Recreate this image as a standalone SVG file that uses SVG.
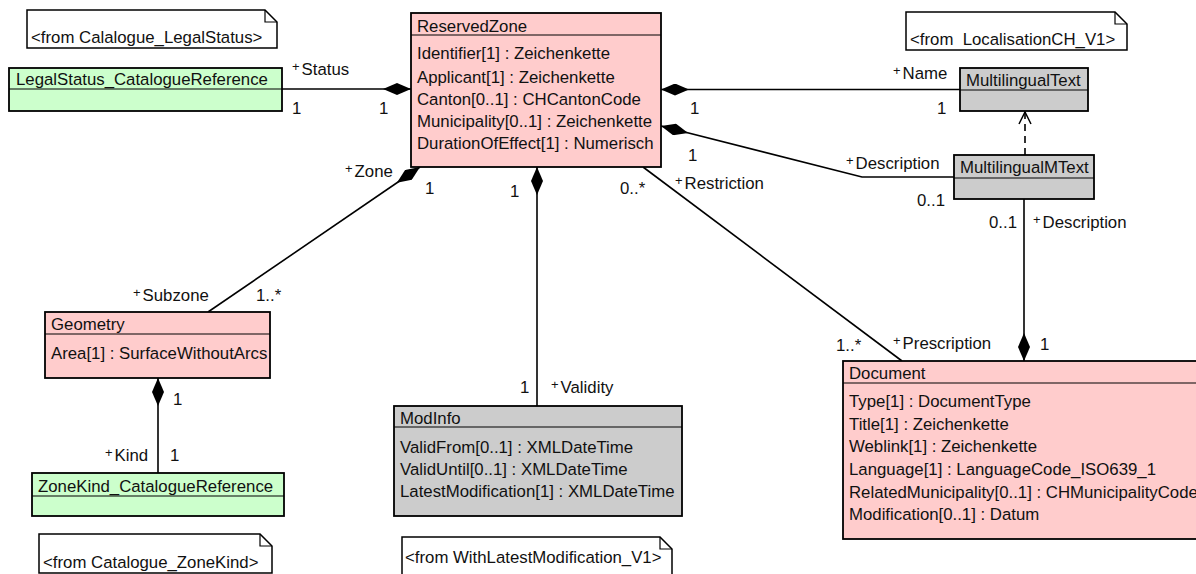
<svg xmlns="http://www.w3.org/2000/svg" width="1196" height="574" viewBox="0 0 1196 574">
<style>
text{font-family:"Liberation Sans",Arial,sans-serif;font-size:16.8px;fill:#111}
.p{font-size:13px}
.box{stroke:#000;stroke-width:1.8}
.pink{fill:#ffcccc}
.green{fill:#ccffcc}
.gray{fill:#cccccc}
.div{stroke:#000;stroke-width:1.2}
.note{fill:#fff;stroke:#000;stroke-width:1.5}
.fold{fill:none;stroke:#000;stroke-width:1.2}
.c{fill:none;stroke:#000;stroke-width:1.6}
.dash{stroke-dasharray:7 5}
</style>
<defs>
<marker id="dia" viewBox="0 0 28 12" refX="0" refY="6" markerWidth="28" markerHeight="12" markerUnits="userSpaceOnUse" orient="auto">
<path d="M0,6 L14,0 L28,6 L14,12 Z" fill="#000"/>
</marker>
<marker id="open" viewBox="0 0 14 14" refX="13" refY="7" markerWidth="14" markerHeight="14" markerUnits="userSpaceOnUse" orient="auto">
<path d="M1,1 L13,7 L1,13" fill="none" stroke="#000" stroke-width="1.5"/>
</marker>
</defs>

<g id="connectors">
<path class="c" d="M411,89 L282,89" marker-start="url(#dia)"/>
<path class="c" d="M661,89.5 L960,89.5" marker-start="url(#dia)"/>
<path class="c" d="M661,126 L862,177 L954,177" marker-start="url(#dia)"/>
<path class="c" d="M420,167 L208,312" marker-start="url(#dia)"/>
<path class="c" d="M537,167 L537,406" marker-start="url(#dia)"/>
<path class="c" d="M643,167 L902,361"/>
<path class="c" d="M158,378 L158,473" marker-start="url(#dia)"/>
<path class="c" d="M1024,361 L1024,199" marker-start="url(#dia)"/>
<path class="c dash" d="M1025,155 L1025,112" marker-end="url(#open)"/>
</g>

<g id="labels">
<text x="292" y="75"><tspan class="p" dy="-4">+</tspan><tspan dx="2" dy="4">Status</tspan></text>
<text x="292" y="114">1</text>
<text x="379" y="114">1</text>
<text x="893" y="79"><tspan class="p" dy="-4">+</tspan><tspan dx="2" dy="4">Name</tspan></text>
<text x="690" y="114">1</text>
<text x="937" y="114">1</text>
<text x="846" y="169"><tspan class="p" dy="-4">+</tspan><tspan dx="2" dy="4">Description</tspan></text>
<text x="688" y="161">1</text>
<text x="917" y="206">0..1</text>
<text x="989" y="228">0..1</text>
<text x="1033" y="228"><tspan class="p" dy="-4">+</tspan><tspan dx="2" dy="4">Description</tspan></text>
<text x="1040" y="350">1</text>
<text x="893" y="349"><tspan class="p" dy="-4">+</tspan><tspan dx="2" dy="4">Prescription</tspan></text>
<text x="836" y="351">1..*</text>
<text x="675" y="189"><tspan class="p" dy="-4">+</tspan><tspan dx="2" dy="4">Restriction</tspan></text>
<text x="620" y="194">0..*</text>
<text x="510" y="197">1</text>
<text x="520" y="393">1</text>
<text x="551" y="393"><tspan class="p" dy="-4">+</tspan><tspan dx="2" dy="4">Validity</tspan></text>
<text x="345" y="177"><tspan class="p" dy="-4">+</tspan><tspan dx="2" dy="4">Zone</tspan></text>
<text x="425" y="194">1</text>
<text x="133" y="301"><tspan class="p" dy="-4">+</tspan><tspan dx="2" dy="4">Subzone</tspan></text>
<text x="256" y="301">1..*</text>
<text x="173" y="405">1</text>
<text x="105" y="461"><tspan class="p" dy="-4">+</tspan><tspan dx="2" dy="4">Kind</tspan></text>
<text x="170" y="461">1</text>
</g>

<g id="ReservedZone">
<rect class="box pink" x="411" y="13" width="250" height="154"/>
<line class="div" x1="411" y1="35" x2="661" y2="35"/>
<text x="417" y="32">ReservedZone</text>
<text x="417" y="59">Identifier[1] : Zeichenkette</text>
<text x="417" y="83">Applicant[1] : Zeichenkette</text>
<text x="417" y="105">Canton[0..1] : CHCantonCode</text>
<text x="417" y="127">Municipality[0..1] : Zeichenkette</text>
<text x="417" y="149">DurationOfEffect[1] : Numerisch</text>
</g>

<g id="LegalStatus_CatalogueReference">
<rect class="box green" x="9" y="68" width="273" height="43"/>
<line class="div" x1="9" y1="89" x2="282" y2="89"/>
<text x="16" y="85">LegalStatus_CatalogueReference</text>
</g>

<g id="MultilingualText">
<rect class="box gray" x="960" y="68" width="128" height="43"/>
<line class="div" x1="960" y1="90" x2="1088" y2="90"/>
<text x="966" y="86">MultilingualText</text>
</g>

<g id="MultilingualMText">
<rect class="box gray" x="954" y="155" width="140" height="44"/>
<line class="div" x1="954" y1="178" x2="1094" y2="178"/>
<text x="960" y="173">MultilingualMText</text>
</g>

<g id="Geometry">
<rect class="box pink" x="45" y="312" width="225" height="66"/>
<line class="div" x1="45" y1="334" x2="270" y2="334"/>
<text x="51" y="330">Geometry</text>
<text x="51" y="359">Area[1] : SurfaceWithoutArcs</text>
</g>

<g id="ZoneKind_CatalogueReference">
<rect class="box green" x="32" y="473" width="252" height="43"/>
<line class="div" x1="32" y1="496" x2="284" y2="496"/>
<text x="38" y="492">ZoneKind_CatalogueReference</text>
</g>

<g id="ModInfo">
<rect class="box gray" x="394" y="406" width="288" height="110"/>
<line class="div" x1="394" y1="427" x2="682" y2="427"/>
<text x="400" y="424">ModInfo</text>
<text x="400" y="453">ValidFrom[0..1] : XMLDateTime</text>
<text x="400" y="475">ValidUntil[0..1] : XMLDateTime</text>
<text x="400" y="497">LatestModification[1] : XMLDateTime</text>
</g>

<g id="Document">
<rect class="box pink" x="843" y="361" width="400" height="178"/>
<line class="div" x1="843" y1="383" x2="1243" y2="383"/>
<text x="849" y="379">Document</text>
<text x="849" y="407">Type[1] : DocumentType</text>
<text x="849" y="430">Title[1] : Zeichenkette</text>
<text x="849" y="452">Weblink[1] : Zeichenkette</text>
<text x="849" y="475">Language[1] : LanguageCode_ISO639_1</text>
<text x="849" y="498">RelatedMunicipality[0..1] : CHMunicipalityCode</text>
<text x="849" y="520">Modification[0..1] : Datum</text>
</g>

<g id="note_LegalStatus">
<path class="note" d="M27,10 H265 L277,22 V48 H27 Z"/>
<path class="fold" d="M265,10 V22 H277"/>
<text x="31" y="43">&lt;from Calalogue_LegalStatus&gt;</text>
</g>

<g id="note_Localisation">
<path class="note" d="M906,12 H1115 L1127,24 V50 H906 Z"/>
<path class="fold" d="M1115,12 V24 H1127"/>
<text x="910" y="45" xml:space="preserve" style="white-space:pre">&lt;from  LocalisationCH_V1&gt;</text>
</g>

<g id="note_ZoneKind">
<path class="note" d="M39,534 H260 L272,546 V573 H39 Z"/>
<path class="fold" d="M260,534 V546 H272"/>
<text x="43" y="568">&lt;from Catalogue_ZoneKind&gt;</text>
</g>

<g id="note_WithLatestModification">
<path class="note" d="M402,537 H660 L672,549 V580 H402 Z"/>
<path class="fold" d="M660,537 V549 H672"/>
<text x="405" y="563">&lt;from WithLatestModification_V1&gt;</text>
</g>
</svg>
